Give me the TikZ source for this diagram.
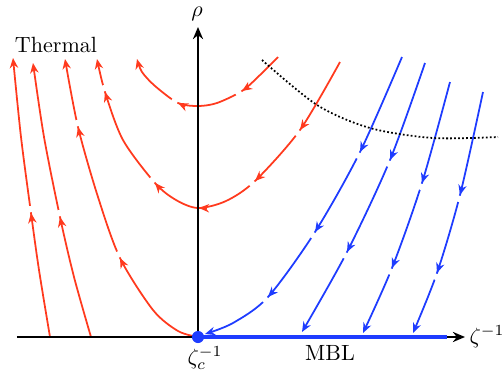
\documentclass[tikz,border=0pt]{standalone}
\usetikzlibrary{arrows.meta, calc}
\definecolor{flowred}{HTML}{FF3A1E}
\definecolor{flowblue}{HTML}{1E3CFF}

\begin{document}
\begin{tikzpicture}[
		x=0.454pt, y=0.454pt,
		axis/.style={very thick, -{Stealth[length=5.5pt, width=4.6pt]}},
		flow/.style={thick, -{Stealth[length=4.6pt, width=3.8pt]}},
		redflow/.style={flow, flowred},
		blueflow/.style={flow, flowblue},
		gap/.style={white, line width=1.8pt},
		]
		\useasboundingbox (-198,-36) rectangle (306,337);
		\coordinate (O) at (0,0);
		
		% Thermal side
		\draw[redflow] plot[smooth] coordinates {(-148,0) (-159,67) (-167,124) (-177,200) (-185,279)};
		\draw[redflow] plot[smooth] coordinates {(-107,0) (-124,60) (-138,120) (-154,200) (-165,274)};
		\draw[redflow] plot[smooth] coordinates {(O) (-20,6) (-45,27) (-78,79) (-100,140) (-120,210) (-133,278)};
		\draw[redflow] plot[smooth] coordinates {(142,275) (102,207) (57,156) (28,136) (0,129) (-22,137) (-43,154) (-75,197) (-93,245) (-101,278)};
		\draw[redflow] plot[smooth] coordinates {(80,280) (62,262) (44,246) (19,234) (0,231) (-20,234) (-43,251) (-56,265) (-61,278)};
		
		% MBL side
		\draw[blueflow] plot[smooth] coordinates {(204,280) (162,185) (117,105) (70,40) (35,14) (7,3)};
		\draw[blueflow] plot[smooth] coordinates {(227,274) (192,177) (149,85) (104,5)};
		\draw[blueflow] plot[smooth] coordinates {(252,255) (224,154) (194,69) (165,4)};
		\draw[blueflow] plot[smooth] coordinates {(285,245) (262,142) (239,64) (215,4)};
		
		% arrows along the streams, line cut just after each tip
		\foreach \b/\t in {{-165.9,116.1}/{-167,124}, {-136.3,112.2}/{-138,120},
			{-74.5,71.8}/{-78,79}, {-118.1,202.2}/{-120,210},
			{106.6,213.5}/{102,207}, {62.8,161.5}/{57,156}, {-37.7,148}/{-43,154},
			{-90.6,237.4}/{-93,245}, {50.7,250.4}/{44,246}, {-12.7,230.6}/{-20,234}}{
			\draw[gap] ($(\t)!-0.1!(\b)$) -- ($(\t)!-0.875!(\b)$);
			\draw[redflow] (\b) -- (\t);
		}
		\draw[redflow] (9,128.8) -- (1,129);
		\foreach \b/\t in {{165.6,192.2}/{162,185}, {121.3,111.8}/{117,105}, {75.4,45.9}/{70,40},
			{195.1,184.4}/{192,177}, {152.6,92.1}/{149,85},
			{226.4,161.6}/{224,154}, {196.9,76.4}/{194,69},
			{264,149.8}/{262,142}, {241.6,71.6}/{239,64}}{
			\draw[gap] ($(\t)!-0.1!(\b)$) -- ($(\t)!-0.875!(\b)$);
			\draw[blueflow] (\b) -- (\t);
		}
		
		% separatrix
		\draw[densely dotted, thick] plot[smooth] coordinates {(64,277) (119,232) (172,209) (235,199) (300,200)};
		
		% axes, MBL line along the zeta axis
		\draw[axis] (-181,0) -- (267,0);
		\draw[axis] (O) -- (0,310);
		\draw[flowblue, line width=2.2pt] (O) -- (249,0);
		\node[circle, fill=flowblue, inner sep=0pt, minimum size=5.5pt] (crit) at (O) {};
		
		% labels
		\node (rho) at (-1,323) {$\rho$};
		\node (thermal) at (-142,292) {Thermal};
		\node (zinv) at (289,0) {$\zeta^{-1}$};
		\node (mbl) at (132,-16) {MBL};
		\node (zc) at (7,-21) {$\zeta_c^{-1}$};
	\end{tikzpicture}
\end{document}
